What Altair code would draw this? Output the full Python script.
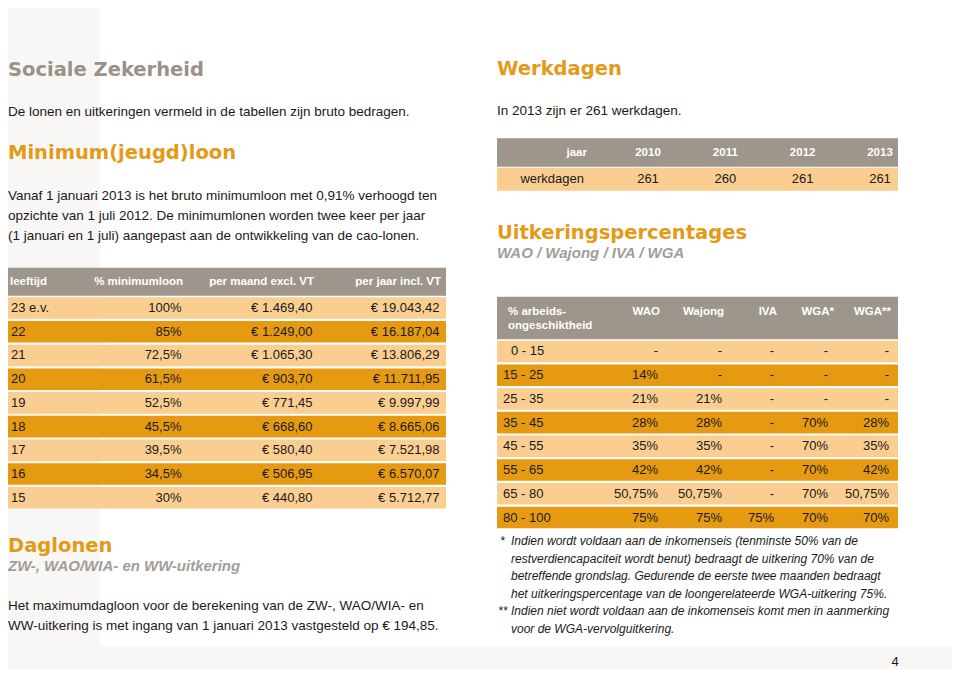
import altair as alt
import pandas as pd

# ---------------- data ----------------
page_title = "Sociale Zekerheid"
page_intro = "De lonen en uitkeringen vermeld in de tabellen zijn bruto bedragen."

ml_title = "Minimum(jeugd)loon"
ml_text = [
    "Vanaf 1 januari 2013 is het bruto minimumloon met 0,91% verhoogd ten",
    "opzichte van 1 juli 2012. De minimumlonen worden twee keer per jaar",
    "(1 januari en 1 juli) aangepast aan de ontwikkeling van de cao-lonen.",
]
ml_header = ["leeftijd", "% minimumloon", "per maand excl. VT", "per jaar incl. VT"]
ml_age = ["23 e.v.", "22", "21", "20", "19", "18", "17", "16", "15"]
ml_pct = [100, 85, 72.5, 61.5, 52.5, 45.5, 39.5, 34.5, 30]
ml_month = [1469.40, 1249.00, 1065.30, 903.70, 771.45, 668.60, 580.40, 506.95, 440.80]
ml_year = [19043.42, 16187.04, 13806.29, 11711.95, 9997.99, 8665.06, 7521.98, 6570.07, 5712.77]

dl_title = "Daglonen"
dl_subtitle = "ZW-, WAO/WIA- en WW-uitkering"
dl_text = [
    "Het maximumdagloon voor de berekening van de ZW-, WAO/WIA- en",
    "WW-uitkering is met ingang van 1 januari 2013 vastgesteld op € 194,85.",
]

wd_title = "Werkdagen"
wd_text = "In 2013 zijn er 261 werkdagen."
wd_header = "jaar"
wd_label = "werkdagen"
wd_years = [2010, 2011, 2012, 2013]
wd_days = [261, 260, 261, 261]

up_title = "Uitkeringspercentages"
up_subtitle = "WAO / Wajong / IVA / WGA"
up_header = ["% arbeids-", "ongeschiktheid"]
up_columns = ["WAO", "Wajong", "IVA", "WGA*", "WGA**"]
up_ranges = ["0 - 15", "15 - 25", "25 - 35", "35 - 45", "45 - 55", "55 - 65", "65 - 80", "80 - 100"]
up_wao = [None, 14, 21, 28, 35, 42, 50.75, 75]
up_wajong = [None, None, 21, 28, 35, 42, 50.75, 75]
up_iva = [None, None, None, None, None, None, None, 75]
up_wga1 = [None, None, None, 70, 70, 70, 70, 70]
up_wga2 = [None, None, None, 28, 35, 42, 50.75, 70]
up_note_marks = ["*", "", "", "", "**", ""]
up_notes = [
    "Indien wordt voldaan aan de inkomenseis (tenminste 50% van de",
    "restverdiencapaciteit wordt benut) bedraagt de uitkering 70% van de",
    "betreffende grondslag. Gedurende de eerste twee maanden bedraagt",
    "het uitkeringspercentage van de loongerelateerde WGA-uitkering 75%.",
    "Indien niet wordt voldaan aan de inkomenseis komt men in aanmerking",
    "voor de WGA-vervolguitkering.",
]
page_number = "4"

# ---------------- style ----------------
W, H = 944, 661
OX, OY = 8, 8
BODY = "Liberation Sans"
HEAD = "DejaVu Sans"
BLACK = "#1a1a1a"
GREY_HEAD = "#9b9189"
GREY_SUB = "#a29d98"
ORANGE_HEAD = "#e49a16"
TH_GREY = "#9e958d"
LIGHT = "#f9ce90"
ORANGE = "#e69a12"
PAPER = "#f9f7f5"


def X(v):
    return v - OX


def Y(v):
    return v - OY


one = pd.DataFrame({"k": [0]})


def label(text, x, y, size=13.5, color=BLACK, weight="normal", style="normal",
          font=BODY, align="left"):
    return alt.Chart(one).mark_text(
        align=align, baseline="middle", fontSize=size, font=font,
        fontWeight=weight, fontStyle=style, color=color,
    ).encode(x=alt.value(X(x)), y=alt.value(Y(y)), text=alt.value(text))


def box(x1, x2, y1, y2, color):
    return alt.Chart(one).mark_rect(color=color).encode(
        x=alt.value(X(x1)), x2=alt.value(X(x2)), y=alt.value(Y(y1)), y2=alt.value(Y(y2)))


def heading(text, x, y, color):
    return label(text, x, y, size=19.5, color=color, weight="bold", font=HEAD)


layers = []

# faint paper background
layers.append(box(0, 100, 0, 677, PAPER))
layers.append(box(0, 960, 646, 677, PAPER))

# ---------- left column ----------
layers.append(heading(page_title, 8, 70, GREY_HEAD))
layers.append(label(page_intro, 8, 112))
layers.append(heading(ml_title, 8, 153, ORANGE_HEAD))
for i, line in enumerate(ml_text):
    layers.append(label(line, 8, 195.8 + i * 20.3))

# table 1 : minimum wages
t1 = pd.DataFrame({"age": ml_age, "pct": ml_pct, "month": ml_month, "year": ml_year})
t1["row"] = range(len(t1))
base1 = alt.Chart(t1).transform_calculate(
    fill=f"datum.row % 2 == 0 ? '{LIGHT}' : '{ORANGE}'",
    pct_txt="format(datum.pct, '.1~f') + '%'",
    month_txt="'€ ' + format(datum.month, ',.2f')",
    year_txt="'€ ' + format(datum.year, ',.2f')",
)
y1 = alt.Y("age:N", sort=ml_age, axis=None,
           scale=alt.Scale(range=[Y(297.3), Y(508.5)], paddingInner=0.09, paddingOuter=0))
cell = dict(baseline="middle", fontSize=13, font=BODY, color=BLACK)
t1_layers = [
    box(4, 446, 267.7, 295.7, TH_GREY),
    base1.mark_rect().encode(x=alt.value(X(4)), x2=alt.value(X(446)), y=y1,
                             color=alt.Color("fill:N", scale=None)),
    base1.mark_text(align="left", **cell).encode(x=alt.value(X(11)), y=y1, text="age:N"),
    base1.mark_text(align="right", **cell).encode(x=alt.value(X(181.5)), y=y1, text="pct_txt:N"),
    base1.mark_text(align="right", **cell).encode(x=alt.value(X(312.5)), y=y1, text="month_txt:N"),
    base1.mark_text(align="right", **cell).encode(x=alt.value(X(439.5)), y=y1, text="year_txt:N"),
]
for txt, xx, al in zip(ml_header, [10, 183, 314, 441], ["left", "right", "right", "right"]):
    t1_layers.append(label(txt, xx, 281.7, size=11.5, color="white", weight="bold", align=al))
layers.append(alt.layer(*t1_layers))

layers.append(heading(dl_title, 8, 545.7, ORANGE_HEAD))
layers.append(label(dl_subtitle, 8, 565.7, size=15, color=GREY_SUB, weight="bold", style="italic"))
for i, line in enumerate(dl_text):
    layers.append(label(line, 8, 605.5 + i * 20.2))

# ---------- right column ----------
layers.append(heading(wd_title, 497, 69.3, ORANGE_HEAD))
layers.append(label(wd_text, 497, 110.7))

t2 = pd.DataFrame({"year": wd_years, "days": wd_days})
t2["label"] = wd_label
x2s = alt.X("year:O", axis=None, scale=alt.Scale(range=[X(648), X(880)], padding=0))
y2s = alt.Y("label:N", axis=None, scale=alt.Scale(range=[Y(167.7), Y(190.7)], paddingOuter=0))
base2 = alt.Chart(t2)
first2 = base2.transform_filter(alt.datum.year == wd_years[0])
t2_layers = [
    box(497, 898, 138.3, 166.7, TH_GREY),
    first2.mark_rect(color=LIGHT).encode(x=alt.value(X(497)), x2=alt.value(X(898)), y=y2s),
    base2.mark_text(align="center", **cell).encode(x=x2s, y=y2s, text=alt.Text("days:Q", format="d")),
    first2.mark_text(align="right", **cell).encode(x=alt.value(X(584)), y=y2s, text="label:N"),
    base2.mark_text(align="center", baseline="middle", fontSize=11.5, font=BODY, fontWeight="bold",
                    color="white").encode(x=x2s, y=alt.value(Y(152.5)), text=alt.Text("year:Q", format="d")),
    label(wd_header, 587, 152.5, size=11.5, color="white", weight="bold", align="right"),
]
layers.append(alt.layer(*t2_layers))

layers.append(heading(up_title, 497, 232.7, ORANGE_HEAD))
layers.append(label(up_subtitle, 497, 252.7, size=15, color=GREY_SUB, weight="bold", style="italic"))

t3 = pd.DataFrame({"range": up_ranges, "WAO": up_wao, "Wajong": up_wajong, "IVA": up_iva,
                   "WGA*": up_wga1, "WGA**": up_wga2})
t3["row"] = range(len(t3))
t3_long = t3.melt(id_vars=["range", "row"], var_name="col", value_name="val")
y3 = alt.Y("range:N", sort=up_ranges, axis=None,
           scale=alt.Scale(range=[Y(340.7), Y(528.3)], paddingInner=0.09, paddingOuter=0))
base3 = alt.Chart(t3[["range", "row"]]).transform_calculate(
    fill=f"datum.row % 2 == 0 ? '{LIGHT}' : '{ORANGE}'",
)
base3v = alt.Chart(t3_long).transform_calculate(
    vtxt="isValid(datum.val) ? format(datum.val, '.2~f') + '%' : '-'"
)
t3_layers = [
    box(497, 898, 296.7, 339.3, TH_GREY),
    base3.mark_rect().encode(x=alt.value(X(497)), x2=alt.value(X(898)), y=y3,
                             color=alt.Color("fill:N", scale=None)),
    # single-digit lower bounds are indented by one digit width in the source table
    base3.transform_filter("length(datum.range) < 7").mark_text(align="left", **cell).encode(
        x=alt.value(X(511)), y=y3, text="range:N"),
    base3.transform_filter("length(datum.range) >= 7").mark_text(align="left", **cell).encode(
        x=alt.value(X(503)), y=y3, text="range:N"),
    label(up_header[0], 508, 311.7, size=11.5, color="white", weight="bold"),
    label(up_header[1], 508, 325.5, size=11.5, color="white", weight="bold"),
]
for c, xv, xh in zip(up_columns, [658, 722, 774, 828, 889], [660, 724, 777, 834, 891]):
    t3_layers.append(
        base3v.transform_filter(alt.datum.col == c).mark_text(align="right", **cell).encode(
            x=alt.value(X(xv)), y=y3, text="vtxt:N"))
    t3_layers.append(label(c, xh, 311.7, size=11.5, color="white", weight="bold", align="right"))
layers.append(alt.layer(*t3_layers))

for i, (mk, line) in enumerate(zip(up_note_marks, up_notes)):
    yy = 541 + i * 17.5
    if mk:
        layers.append(label(mk, 498 if len(mk) > 1 else 500, yy, size=12, style="italic"))
    layers.append(label(line, 511, yy, size=12, style="italic"))

layers.append(label(page_number, 895, 662, size=13, align="center"))

chart = alt.layer(*layers).resolve_scale(x="independent", y="independent").properties(
    width=W, height=H, padding=0,
    autosize=alt.AutoSizeParams(type="none"),
).configure(
    locale=alt.Locale(number=alt.NumberLocale(decimal=",", thousands=".", grouping=[3],
                                              currency=["€ ", ""])),
    view=alt.ViewConfig(strokeWidth=0, stroke="transparent"),
)

chart.save("out.html", embed_options={"renderer": "svg", "actions": False})
